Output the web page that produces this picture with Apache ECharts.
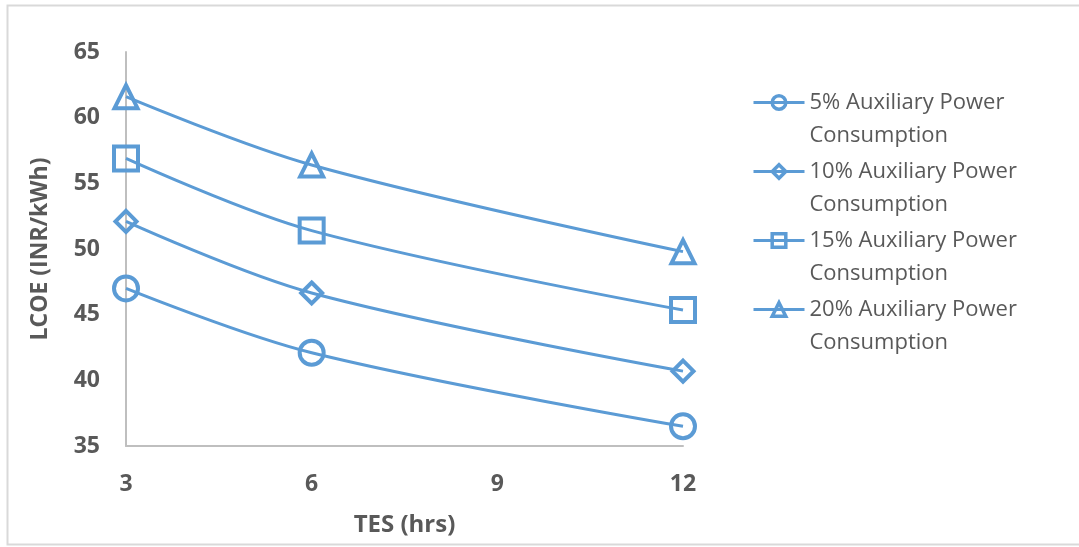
<!DOCTYPE html>
<html><head><meta charset="utf-8">
<script src="https://cdn.jsdelivr.net/npm/echarts@6/dist/echarts.min.js"></script>
<style>html,body{margin:0;padding:0;background:#fff}#c{width:1079px;height:547px}</style>
</head><body><div id="c"></div>
<script>
const tesHours = [3, 6, 12];
const xTicks = [3, 6, 9, 12];
const seriesNames = ['5% Auxiliary Power Consumption','10% Auxiliary Power Consumption','15% Auxiliary Power Consumption','20% Auxiliary Power Consumption'];
const aux5 = [47.0, 42.1, 36.5];
const aux10 = [52.1, 46.65, 40.7];
const aux15 = [56.9, 51.4, 45.35];
const aux20 = [61.6, 56.4, 49.8];
const symbols = ['circle','diamond','rect','triangle'];
const symbolSizes = [24, 21, 24, 23];
const allValues = [aux5, aux10, aux15, aux20];

const blue = '#5B9BD5';
const grayText = '#595959';
const font = 'Open Sans';

const series = allValues.map((vals, i) => ({
  name: seriesNames[i],
  type: 'line',
  smooth: 0.35,
  data: tesHours.map((x, j) => [x, vals[j]]),
  symbol: symbols[i],
  symbolSize: symbolSizes[i],
  showAllSymbol: true,
  lineStyle: { color: blue, width: 3 },
  itemStyle: { color: 'rgba(255,255,255,0)', borderColor: blue, borderWidth: 4 },
  emphasis: { disabled: true },
  z: 2
}));

const chart = echarts.init(document.getElementById('c'), null, { renderer: 'canvas' });
chart.setOption({
  animation: false,
  backgroundColor: '#fff',
  graphic: [{
    type: 'rect', silent: true, z: -10,
    shape: { x: 7.5, y: 5.5, width: 1090, height: 539 },
    style: { fill: 'none', stroke: '#d9d9d9', lineWidth: 2 }
  }],
  grid: { left: 126, right: 396, top: 52, bottom: 101, containLabel: false },
  xAxis: {
    type: 'value', min: 3, max: 12, interval: 3,
    name: 'TES (hrs)', nameLocation: 'middle', nameGap: 67,
    nameTextStyle: { fontFamily: font, fontWeight: 'bold', fontSize: 24, color: grayText },
    axisLine: { show: true, lineStyle: { color: '#bfbfbf', width: 2 } },
    axisTick: { show: false },
    splitLine: { show: false },
    axisLabel: { margin: 27, fontFamily: font, fontWeight: 'bold', fontSize: 23, color: grayText,
      formatter: v => xTicks.includes(v) ? String(v) : '' }
  },
  yAxis: {
    type: 'value', min: 35, max: 65, interval: 5,
    name: 'LCOE (INR/kWh)', nameLocation: 'middle', nameGap: 74,
    nameTextStyle: { fontFamily: font, fontWeight: 'bold', fontSize: 23, color: grayText },
    axisLine: { show: true, lineStyle: { color: '#bfbfbf', width: 2 } },
    axisTick: { show: false },
    splitLine: { show: false },
    axisLabel: { margin: 26, fontFamily: font, fontWeight: 'bold', fontSize: 23, color: grayText }
  },
  legend: {
    orient: 'vertical', left: 747, top: 48,
    itemWidth: 51, itemHeight: 17, itemGap: -30,
    data: seriesNames,
    formatter: name => '\n' + name.replace(' Consumption', '\nConsumption'),
    textStyle: { fontFamily: font, fontSize: 22, color: grayText, lineHeight: 33 },
    itemStyle: { color: 'rgba(255,255,255,0)', borderColor: blue, borderWidth: 3.5 },
    lineStyle: { color: blue, width: 3 }
  },
  series
});
</script></body></html>
